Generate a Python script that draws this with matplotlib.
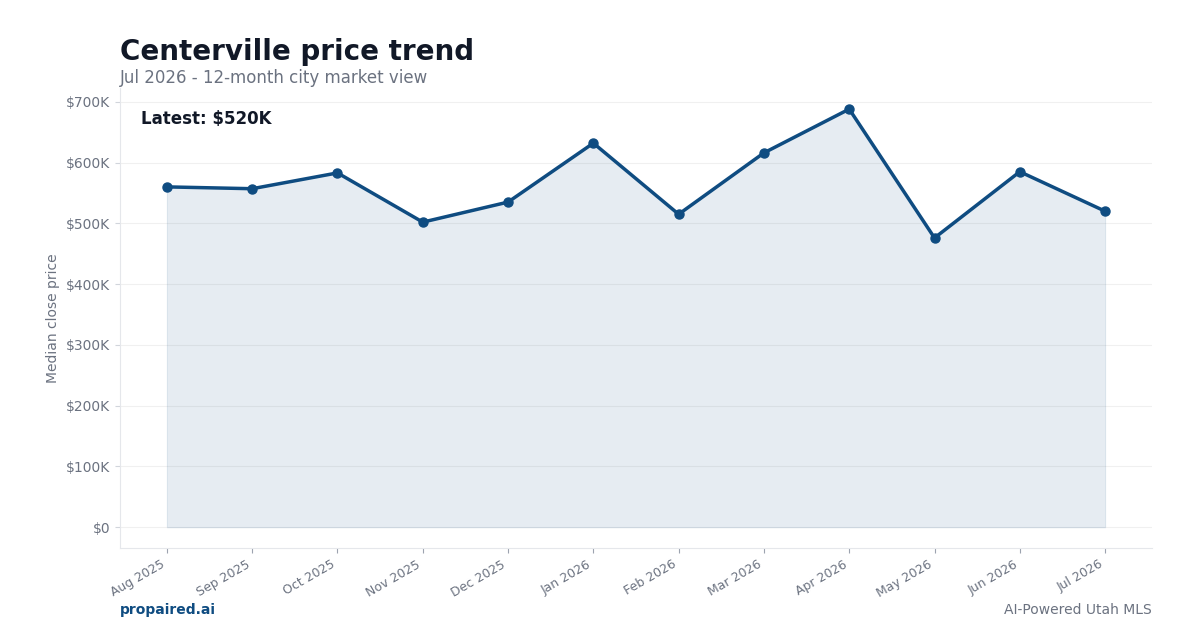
""" Centerville median close price, 12-month view """
import numpy as np
from matplotlib import pyplot as plt
from matplotlib.ticker import FuncFormatter

months = ["Aug 2025", "Sep 2025", "Oct 2025", "Nov 2025", "Dec 2025", "Jan 2026",
          "Feb 2026", "Mar 2026", "Apr 2026", "May 2026", "Jun 2026", "Jul 2026"]
median_price = [560000, 557000, 583000, 502000, 535000, 632000,
                515000, 616000, 688000, 476000, 585000, 520000]

line_color = "#0f4c81"
dark = "#111827"
muted = "#6b7280"

if __name__ == "__main__":
    fig = plt.figure(figsize=(12, 6.3), dpi=100)
    ax = fig.add_subplot(111)
    fig.subplots_adjust(left=0.1, right=0.96, top=0.86, bottom=0.13)

    x = np.arange(len(months))
    # shaded area under the line, with a faint outline
    ax.fill_between(x, median_price, 0, facecolor=line_color, alpha=0.1,
                    edgecolor=line_color, linewidth=0.8)
    ax.plot(x, median_price, "-o", color=line_color, linewidth=2.5, markersize=6.5)

    ax.set_xticks(x)
    ax.set_xticklabels(months, rotation=30, ha="right", fontsize=9, color=muted)
    ax.yaxis.set_major_formatter(FuncFormatter(lambda v, p: "$0" if v == 0 else "${:.0f}K".format(v / 1000)))
    ax.set_yticks(np.arange(0, 700001, 100000))
    ax.tick_params(axis="y", labelsize=10, labelcolor=muted, color="#d1d5db")
    ax.tick_params(axis="x", color="#9ca3af")
    ax.set_ylabel("Median close price", fontsize=10, color=muted)
    ax.grid(axis="y", color="#f0f0f0", linewidth=0.8)
    ax.set_axisbelow(True)
    for side in ["top", "right"]:
        ax.spines[side].set_visible(False)
    for side in ["left", "bottom"]:
        ax.spines[side].set_color("#e5e7eb")

    ax.text(0.02, 0.952, "Latest: ${:.0f}K".format(median_price[-1] / 1000), transform=ax.transAxes,
            fontsize=12, fontweight="bold", color=dark, va="top")

    fig.text(0.1, 0.918, "Centerville price trend", fontsize=20, fontweight="bold", color=dark, va="center")
    fig.text(0.1, 0.876, "Jul 2026 - 12-month city market view", fontsize=12, color=muted, va="center")
    fig.text(0.1, 0.032, "propaired.ai", fontsize=10, fontweight="bold", color=line_color, va="center")
    fig.text(0.96, 0.032, "AI-Powered Utah MLS", fontsize=10, color=muted, va="center", ha="right")

    plt.savefig("out.png", dpi=100)
